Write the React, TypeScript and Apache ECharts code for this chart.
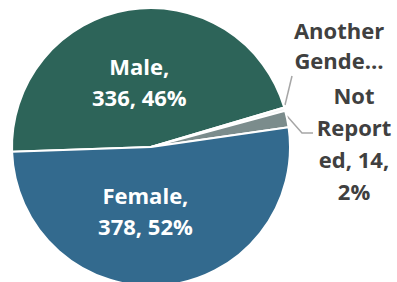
import React, { useEffect, useRef } from "react";
import * as echarts from "echarts";

const categories = ["Male", "Another Gender", "Not Reported", "Female"];
const values = [336, 3, 14, 378];
const colors = ["#2D6459", "#F4F6F6", "#7B8C8C", "#336A8E"];

export default function App() {
  const ref = useRef<HTMLDivElement>(null);
  useEffect(() => {
    document.body.style.margin = "0";
    const chart = echarts.init(ref.current!, null, { renderer: "svg" });
    const font = "'Open Sans', 'Noto Sans', sans-serif";
    chart.setOption({
      animation: false,
      backgroundColor: "#ffffff",
      series: [
        {
          type: "pie",
          center: [151, 147],
          radius: 139,
          startAngle: 182,
          clockwise: true,
          avoidLabelOverlap: false,
          itemStyle: { borderColor: "#ffffff", borderWidth: 2 },
          label: {
            fontFamily: font,
            fontWeight: "bold",
            fontSize: 22,
          },
          labelLine: { lineStyle: { color: "#A6A6A6", width: 1.5 }, length: 10, length2: 10 },
          labelLayout: (p: any) => {
            if (p.dataIndex === 1) {
              return {
                x: 339,
                y: 45,
                align: "center",
                verticalAlign: "middle",
                labelLinePoints: [
                  [285, 105],
                  [292, 76],
                  [292, 76],
                ],
              };
            }
            if (p.dataIndex === 2) {
              return {
                x: 354,
                y: 143,
                align: "center",
                verticalAlign: "middle",
                labelLinePoints: [
                  [287, 116],
                  [302, 133],
                  [313, 133],
                ],
              };
            }
            return {};
          },
          data: categories.map((name, i) => {
            const inside = i === 0 || i === 3;
            return {
              name,
              value: values[i],
              itemStyle: { color: colors[i] },
              label: inside
                ? {
                    position: "inside",
                    color: "#ffffff",
                    lineHeight: 31,
                    align: "center",
                    offset: i === 3 ? [-12, -9] : [0, 6],
                    formatter: (p: any) => `${p.name},\n${p.value}, ${Math.round(p.percent)}%`,
                  }
                : {
                    position: "outside",
                    color: "#404040",
                    lineHeight: i === 1 ? 30 : 32,
                    align: "center",
                    formatter:
                      i === 1
                        ? () => "Another\nGende\u2026"
                        : (p: any) => `Not\nReport\ned, ${p.value},\n${Math.round(p.percent)}%`,
                  },
              labelLine: { show: !inside },
            };
          }),
        },
      ],
    });
    return () => chart.dispose();
  }, []);
  return <div ref={ref} style={{ width: 397, height: 282 }} />;
}
